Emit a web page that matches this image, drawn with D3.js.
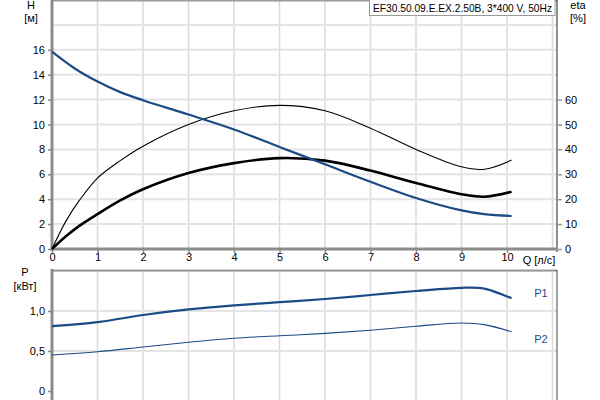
<!DOCTYPE html>
<html><head><meta charset="utf-8">
<script src="https://cdn.jsdelivr.net/npm/d3@7"></script>
<style>body{margin:0;background:#fff}svg{display:block;font-family:"Liberation Sans",Arial,sans-serif}</style>
</head><body><svg id="c" width="600" height="400"></svg>
<script>
const title = "EF30.50.09.E.EX.2.50B, 3*400 V, 50Hz";
const qH   = [0, 0.5, 1, 1.5, 2, 3, 4, 5, 6, 7, 8, 9, 9.5, 10.1];
const H    = [15.85, 14.5, 13.45, 12.6, 11.95, 10.8, 9.6, 8.2, 6.8, 5.4, 4.1, 3.1, 2.8, 2.65];
const qEta = [0, 0.3, 0.6, 1, 1.5, 2, 3, 4, 5, 6, 7, 8, 9, 9.5, 10.1];
const etaThin  = [0, 11, 19.5, 28.5, 35.5, 41.3, 50, 55.5, 57.7, 55.5, 48.5, 40, 33, 32, 35.7];
const etaThick = [0, 5, 9.3, 14, 19.5, 24, 30.5, 34.5, 36.5, 35.5, 31.5, 26.5, 22, 21, 23];
const qP = [0, 1, 2, 3, 4, 5, 6, 7, 8, 9, 9.5, 10.1];
const P1 = [0.81, 0.86, 0.95, 1.02, 1.07, 1.11, 1.15, 1.20, 1.25, 1.29, 1.28, 1.16];
const P2 = [0.45, 0.49, 0.55, 0.61, 0.66, 0.69, 0.72, 0.76, 0.81, 0.85, 0.83, 0.74];
const qTicks = [0,1,2,3,4,5,6,7,8,9,10];
const hTicks = [0,2,4,6,8,10,12,14,16];
const etaTicks = [0,10,20,30,40,50,60];
const pTicks = [0,0.5,1.0];

const svg = d3.select("#c");
const L = 52, R = 557;
const x = d3.scaleLinear().domain([0, 11.1]).range([L, L + 11.1*45.5]);
const yH = d3.scaleLinear().domain([0, 20]).range([249, 0]);
const yE = d3.scaleLinear().domain([0, 100]).range([249, 0]);
const yP = d3.scaleLinear().domain([0, 1.5]).range([391, 271]);
const blue = "#1a4b85";

function grid(y, hvals, top, bottom){
  svg.append("g").selectAll("line").data(d3.range(1,12)).join("line")
    .attr("x1", d=>x(d)).attr("x2", d=>x(d)).attr("y1", top).attr("y2", bottom)
    .attr("stroke", "#dadada").attr("stroke-width", 1.5);
  svg.append("g").selectAll("line").data(hvals).join("line")
    .attr("x1", L).attr("x2", R).attr("y1", d=>y(d)).attr("y2", d=>y(d))
    .attr("stroke", "#e4e4e4").attr("stroke-width", 2);
}
grid(yH, d3.range(2, 21, 2), 0, 249);
grid(yP, [0.5, 1.0, 1.5], 271, 400);

svg.append("line").attr("x1", L).attr("x2", R).attr("y1", 0.5).attr("y2", 0.5).attr("stroke", "#9a9a9a").attr("stroke-width", 2);
svg.append("line").attr("x1", L).attr("x2", R).attr("y1", 270.5).attr("y2", 270.5).attr("stroke", "#9a9a9a").attr("stroke-width", 2);
svg.append("line").attr("x1", R).attr("x2", R).attr("y1", 0).attr("y2", 252).attr("stroke", "#222").attr("stroke-width", 1);
svg.append("line").attr("x1", R).attr("x2", R).attr("y1", 270).attr("y2", 400).attr("stroke", "#444").attr("stroke-width", 1);

function styleAxis(g, col){
  g.select(".domain").attr("stroke", col).attr("stroke-width", 3);
  g.selectAll(".tick line").attr("stroke", "#888").attr("stroke-width", 1.5);
  g.selectAll("text").attr("fill", "#000").style("font-size", "11px").style("font-family", '"Liberation Sans",Arial,sans-serif');
}
const gx = svg.append("g").attr("transform", "translate(0,249)")
  .call(d3.axisBottom(x).tickValues(qTicks).tickSize(4).tickSizeOuter(0).tickFormat(d3.format("d")));
styleAxis(gx, "#8c8c8c");
gx.select(".domain").attr("d", `M${L},0H${R}`);
gx.selectAll("text").attr("dy", "0.85em").attr("y", 3);

const gy = svg.append("g").attr("transform", `translate(${L},0)`)
  .call(d3.axisLeft(yH).tickValues(hTicks).tickSize(4).tickSizeOuter(0));
styleAxis(gy, "#8c8c8c");
gy.select(".domain").attr("d", "M0,0V251");

const ge = svg.append("g").attr("transform", `translate(${R},0)`)
  .call(d3.axisRight(yE).tickValues(etaTicks).tickSize(5).tickSizeOuter(0));
ge.select(".domain").remove();
ge.selectAll(".tick line").attr("stroke", "#999").attr("stroke-width", 1.5);
ge.selectAll("text").attr("x", 8).style("font-size", "11px").style("font-family", '"Liberation Sans",Arial,sans-serif');

const gp = svg.append("g").attr("transform", `translate(${L},0)`)
  .call(d3.axisLeft(yP).tickValues(pTicks).tickSize(4).tickSizeOuter(0)
    .tickFormat(d => d === 0 ? "0" : d3.format(".1f")(d).replace(".", ",")));
styleAxis(gp, "#8c8c8c");
gp.select(".domain").attr("d", "M0,269V400");

const T = (txt, xx, yy, anchor, size, fill) => svg.append("text").text(txt).attr("x", xx).attr("y", yy)
  .attr("text-anchor", anchor || "middle").style("font-size", (size||11) + "px").attr("fill", fill || "#000");
T("H", 31, 9); T("[м]", 31, 22);
T("eta", 578, 9); T("[%]", 578, 22);
T("Q [л/с]", 539, 264);
T("P", 25, 276); T("[кВт]", 25, 290);
T("P1", 541, 297, "middle", 11, blue);
T("P2", 541, 343, "middle", 11, blue);

const line = (xs, ys, y) => d3.line().x((d,i)=>x(xs[i])).y(d=>y(d)).curve(d3.curveCatmullRom.alpha(0.5))(ys);
svg.append("path").attr("d", line(qEta, etaThin, yE)).attr("fill","none").attr("stroke","#000").attr("stroke-width",1.1);
svg.append("path").attr("d", line(qEta, etaThick, yE)).attr("fill","none").attr("stroke","#000").attr("stroke-width",2.6);
svg.append("path").attr("d", line(qH, H, yH)).attr("fill","none").attr("stroke",blue).attr("stroke-width",2.2);
svg.append("path").attr("d", line(qP, P1, yP)).attr("fill","none").attr("stroke",blue).attr("stroke-width",2.2);
svg.append("path").attr("d", line(qP, P2, yP)).attr("fill","none").attr("stroke",blue).attr("stroke-width",1.1);

const tb = svg.append("g");
tb.append("rect").attr("x", 369.5).attr("y", -1).attr("width", 555 - 369.5).attr("height", 16.5)
  .attr("fill", "#fff").attr("stroke", "#999").attr("stroke-width", 1);
tb.append("text").text(title).attr("x", 373).attr("y", 11.5).style("font-size", "10.5px")
  .attr("textLength", 179).attr("lengthAdjust", "spacingAndGlyphs").attr("fill", "#000");
</script></body></html>
